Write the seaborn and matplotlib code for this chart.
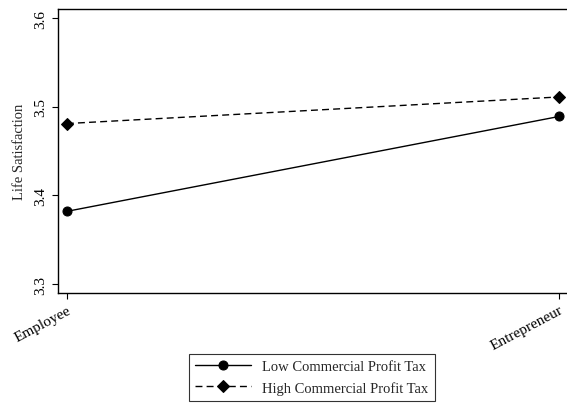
import matplotlib
matplotlib.use("Agg")
import matplotlib.pyplot as plt
import seaborn as sns
import pandas as pd

categories = ["Employee", "Entrepreneur"]
low_tax = [3.382, 3.489]
high_tax = [3.481, 3.511]
series_names = ["Low Commercial Profit Tax", "High Commercial Profit Tax"]
y_ticks = [3.3, 3.4, 3.5, 3.6]

sns.set_theme(style="ticks")
plt.rcParams["font.family"] = ["Liberation Serif", "DejaVu Serif"]

rows = []
for name, vals in zip(series_names, [low_tax, high_tax]):
    for i, (c, v) in enumerate(zip(categories, vals)):
        rows.append({"pos": i, "cat": c, "value": v, "series": name})
df = pd.DataFrame(rows)

fig = plt.figure(figsize=(5.67, 4.06), dpi=100)
ax = fig.add_axes([0.1023, 0.276, 0.8977, 0.699])

sns.lineplot(data=df, x="pos", y="value", hue="series", style="series",
             hue_order=series_names, style_order=series_names,
             palette=["black", "black"],
             dashes={series_names[0]: "", series_names[1]: (5, 3)},
             markers={series_names[0]: "o", series_names[1]: "D"},
             markersize=6.5, linewidth=1.0, markeredgecolor="black",
             ax=ax, legend=True)

ax.set_xlim(-0.018, 1.016)
ax.set_ylim(3.290, 3.610)
ax.set_xticks(range(len(categories)))
ax.set_xticklabels(categories, rotation=28, ha="right", rotation_mode="anchor", fontsize=11)
ax.set_yticks(y_ticks)
ax.set_yticklabels([f"{t:.1f}" for t in y_ticks], rotation=90, va="center", fontsize=11)
ax.set_xlabel("")
ax.set_ylabel("Life Satisfaction", fontsize=10.5, labelpad=6)
ax.tick_params(axis="both", direction="out", length=4, width=0.8, colors="black")
for s in ax.spines.values():
    s.set_color("black")
    s.set_linewidth(1.0)
ax.spines["right"].set_visible(False)

handles, labels = ax.get_legend_handles_labels()
ax.get_legend().remove()
leg = fig.legend(handles, labels, loc="center", bbox_to_anchor=(0.55, 0.068),
                 frameon=True, fancybox=False, edgecolor="black", fontsize=10.5,
                 handlelength=3.8, borderpad=0.45, labelspacing=0.5)
leg.get_frame().set_linewidth(0.8)

fig.savefig("out.png", dpi=100)
